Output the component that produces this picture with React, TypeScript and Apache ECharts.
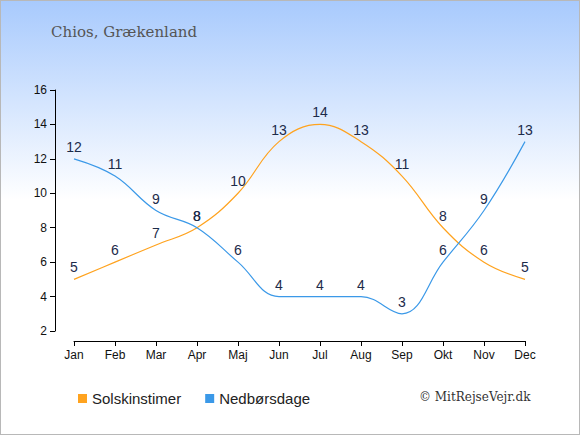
import React, { useEffect, useRef } from "react";
import * as echarts from "echarts";

const months = ["Jan", "Feb", "Mar", "Apr", "Maj", "Jun", "Jul", "Aug", "Sep", "Okt", "Nov", "Dec"];
const sunHours = [5, 6, 7, 8, 10, 13, 14, 13, 11, 8, 6, 5];
const rainDays = [12, 11, 9, 8, 6, 4, 4, 4, 3, 6, 9, 13];
const yTicks = { min: 2, max: 16, interval: 2 };

export default function App() {
  const ref = useRef<HTMLDivElement>(null);
  useEffect(() => {
    document.body.style.margin = "0";
    const chart = echarts.init(ref.current!, null, { renderer: "svg" });
    const labelStyle = {
      show: true,
      position: "top" as const,
      distance: 5,
      color: "#1c2b4a",
      fontSize: 14,
      fontFamily: "Liberation Sans, Arial, sans-serif",
    };
    chart.setOption({
      animation: false,
      backgroundColor: {
        type: "linear",
        x: 0,
        y: 0,
        x2: 0,
        y2: 1,
        colorStops: [
          { offset: 0, color: "#a8cafd" },
          { offset: 0.46, color: "#ffffff" },
          { offset: 1, color: "#ffffff" },
        ],
      },
      title: {
        text: "Chios, Grækenland",
        left: 45,
        top: 18,
        textStyle: {
          fontFamily: "DejaVu Serif, Georgia, serif",
          fontWeight: "normal",
          fontSize: 15,
          color: "#555555",
        },
      },
      graphic: [
        {
          type: "text",
          left: 418,
          top: 390,
          style: {
            text: "© MitRejseVejr.dk",
            fontFamily: "DejaVu Serif, Georgia, serif",
            fontSize: 12,
            fill: "#333333",
          },
        },
      ],
      legend: {
        left: 72,
        top: 385,
        itemWidth: 9,
        itemHeight: 9,
        itemGap: 24,
        icon: "rect",
        textStyle: {
          fontFamily: "Liberation Sans, Arial, sans-serif",
          fontSize: 15,
          color: "#222",
        },
        data: ["Solskinstimer", "Nedbørsdage"],
      },
      grid: { left: 73, right: 54, top: 89, bottom: 103 },
      xAxis: {
        type: "category",
        data: months,
        boundaryGap: false,
        offset: 10,
        axisLine: { lineStyle: { color: "#000", width: 1 } },
        axisTick: { alignWithLabel: true, length: 5, lineStyle: { color: "#000" } },
        axisLabel: {
          color: "#111",
          fontSize: 12,
          fontFamily: "Liberation Sans, Arial, sans-serif",
          margin: 8,
        },
        splitLine: { show: false },
      },
      yAxis: {
        type: "value",
        min: yTicks.min,
        max: yTicks.max,
        interval: yTicks.interval,
        offset: 19,
        axisLine: { show: true, lineStyle: { color: "#000", width: 1 } },
        axisTick: { show: true, length: 5, lineStyle: { color: "#000" } },
        axisLabel: {
          color: "#111",
          fontSize: 12,
          fontFamily: "Liberation Sans, Arial, sans-serif",
          margin: 8,
        },
        splitLine: { show: false },
      },
      series: [
        {
          name: "Solskinstimer",
          type: "line",
          data: sunHours,
          smooth: 0.4,
          symbol: "circle",
          symbolSize: 0,
          showSymbol: true,
          color: "#ffa31f",
          lineStyle: { width: 1.2, color: "#ffa31f" },
          label: labelStyle,
        },
        {
          name: "Nedbørsdage",
          type: "line",
          data: rainDays,
          smooth: 0.4,
          symbol: "circle",
          symbolSize: 0,
          showSymbol: true,
          color: "#3b99e8",
          lineStyle: { width: 1.2, color: "#3b99e8" },
          label: labelStyle,
        },
      ],
    });
    return () => chart.dispose();
  }, []);
  return (
    <div
      ref={ref}
      style={{ width: 580, height: 435, boxSizing: "border-box", border: "1px solid #b8b8b8" }}
    />
  );
}
